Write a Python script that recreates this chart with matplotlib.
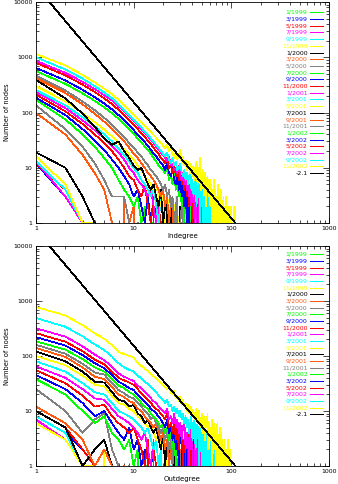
import matplotlib
matplotlib.use("Agg")
import matplotlib.pyplot as plt
from matplotlib.ticker import FixedLocator, FixedFormatter, LogLocator, NullFormatter

# snapshot labels and colours (legend order)
labels = ["1/1999", "3/1999", "5/1999", "7/1999", "9/1999", "11/1999",
          "1/2000", "3/2000", "5/2000", "7/2000", "9/2000", "11/2000",
          "1/2001", "3/2001", "5/2001", "7/2001", "9/2001", "11/2001",
          "1/2002", "3/2002", "5/2002", "7/2002", "9/2002", "11/2002"]
palette = ["#00ff00", "#0000ff", "#ff0000", "#ff00ff", "#00ffff", "#ffff00",
           "#000000", "#ff5a10", "#808080"]

# power-law reference: N(k) = C * k^-2.1
pl_exp = -2.1
pl_const = 19360
pl_k = [1, 110]

# number of nodes with in-degree k = 1, 2, 3, ...
indeg = [
    [12, 3, 1],
    [12, 3, 1],
    [12, 4, 1],
    [13, 3, 1],
    [13, 4, 1],
    [16, 5, 1, 1],
    [19, 10, 3, 1],
    [98, 40, 17, 8, 4, 1, 0, 3, 1, 2, 0, 1],
    [135, 50, 24, 12, 6, 3, 3, 3, 1, 0, 1, 0, 1],
    [170, 75, 40, 24, 15, 10, 6, 4, 3, 2, 3, 1, 2, 0, 1, 1, 0, 2, 0, 1],
    [185, 90, 50, 31, 21, 14, 10, 7, 5, 3, 4, 2, 1, 3, 1, 0, 2, 1, 0, 1, 0, 1],
    [210, 105, 62, 40, 28, 20, 14, 10, 7, 6, 4, 3, 5, 2, 1, 3, 0, 2, 1, 0, 1, 2, 0, 1,
     0, 0, 1, 0, 1],
    [235, 120, 72, 48, 34, 25, 19, 14, 10, 8, 6, 5, 4, 3, 4, 2, 1, 3, 0, 2, 1, 0, 1, 0, 2, 0, 1,
     0, 1, 0, 0, 1],
    [255, 135, 82, 56, 40, 30, 22, 17, 13, 10, 8, 6, 5, 4, 3, 5, 2, 1, 3, 2,
     0, 1, 2, 0, 1, 0, 1, 1, 0, 0, 1, 0, 2, 0, 1, 0, 0, 1],
    [300, 160, 98, 67, 49, 37, 28, 22, 17, 14, 11, 9, 7, 6, 5, 4, 5, 3, 2, 4,
     1, 3, 2, 0, 2, 1, 3, 0, 1, 2, 0, 1, 0, 2, 0, 1, 0, 0, 1, 0, 1, 0, 0, 1,
     0, 2, 0, 1, 0, 0, 1, 0, 1],
    [390, 180, 95, 55, 34, 26, 30, 20, 15, 11, 9, 10, 7, 5, 4, 5, 3, 2, 4, 1,
     2, 3, 0, 1, 2, 0, 1, 1, 0, 2, 0, 1, 0, 0, 1, 2, 0, 1, 0, 1, 1, 0, 0, 1, 0, 1],
    [420, 225, 140, 95, 68, 50, 38, 30, 23, 18, 15, 12, 10, 8, 7, 6, 5, 4, 3, 4,
     2, 3, 1, 2, 3, 0, 1, 2, 0, 1, 1, 0, 2, 0, 1, 0, 0, 1, 0, 1,
     0, 1, 2, 0, 1, 0, 1, 0, 0, 1],
    [460, 250, 158, 110, 80, 60, 46, 36, 28, 23, 19, 16, 13, 11, 9, 8, 7, 6, 5, 4,
     5, 3, 4, 2, 3, 1, 2, 3, 0, 1, 2, 1, 0, 1, 0, 2, 0, 1, 0, 0, 1, 0, 1,
     0, 2, 1, 0, 1, 0, 1, 0, 0, 1, 0, 1],
    [560, 330, 222, 162, 124, 97, 77, 62, 50, 41, 34, 29, 24, 21, 18, 15, 13, 11, 10, 9,
     8, 10, 6, 7, 5, 8, 4, 6, 3, 5, 2, 6, 1, 4, 3, 0, 2, 4, 1, 3,
     0, 2, 1, 3, 0, 1, 2, 0, 1, 0, 0, 2, 0, 1, 1, 0, 1, 0, 2, 0, 1, 0, 0, 1, 0, 1],
    [640, 380, 258, 190, 145, 114, 90, 72, 58, 48, 40, 34, 29, 25, 21, 18, 16, 14, 12, 11,
     9, 12, 8, 7, 10, 6, 5, 8, 4, 6, 3, 7, 2, 5, 1, 4, 3, 0, 2, 5,
     1, 3, 0, 2, 1, 4, 0, 1, 2, 0, 3, 0, 1, 0, 2, 0, 1, 0, 0, 1,
     0, 1, 2, 0, 1, 0, 0, 1, 0, 1],
    [790, 470, 320, 235, 180, 142, 112, 90, 72, 60, 50, 42, 36, 31, 27, 23, 20, 18, 15, 14,
     12, 15, 10, 11, 8, 12, 7, 9, 6, 10, 5, 7, 4, 8, 3, 6, 2, 5, 4, 1,
     3, 5, 0, 2, 4, 1, 3, 0, 2, 1, 4, 0, 1, 2, 0, 3, 1, 0, 1, 0,
     2, 0, 1, 0, 0, 1, 0, 2, 0, 0, 1, 0, 0, 0, 1],
    [860, 520, 360, 265, 205, 165, 130, 105, 85, 70, 59, 50, 42, 37, 32, 28, 24, 21, 19, 17,
     15, 13, 16, 11, 12, 9, 10, 8, 11, 7, 6, 8, 5, 7, 4, 6, 3, 5, 2, 4,
     3, 1, 5, 2, 0, 3, 1, 4, 0, 2, 1, 3, 0, 1, 2, 0, 1, 0, 2, 1,
     0, 1, 0, 0, 1, 2, 0, 1, 0, 0, 1, 0, 0, 1, 0, 0, 0, 1],
    [1000, 600, 410, 300, 230, 180, 142, 112, 90, 75, 63, 53, 45, 39, 34, 30, 26, 23, 20, 18,
     16, 19, 14, 12, 15, 11, 13, 9, 10, 12, 8, 7, 9, 6, 8, 5, 7, 9, 4, 6,
     3, 5, 7, 2, 4, 6, 3, 1, 5, 2, 4, 0, 3, 2, 1, 4, 0, 2, 3, 1,
     0, 2, 3, 1, 0, 2, 1, 3, 0, 1, 2, 0, 1, 0, 2, 1, 0, 0, 1, 2,
     0, 1, 0, 0, 1, 0, 1, 0, 0, 1],
    [1150, 710, 480, 350, 270, 215, 170, 135, 110, 92, 78, 66, 57, 50, 44, 39, 35, 31, 28, 25,
     23, 26, 20, 22, 18, 15, 19, 14, 17, 21, 12, 16, 11, 14, 9, 13, 10, 8, 12, 7,
     11, 6, 9, 13, 5, 8, 10, 15, 4, 7, 9, 3, 6, 8, 2, 5, 7, 4, 3, 6,
     2, 5, 1, 4, 3, 6, 1, 2, 4, 0, 3, 2, 5, 1, 0, 3, 2, 1, 4, 0,
     2, 1, 3, 0, 2, 1, 0, 3, 1, 0, 2, 1, 0, 1, 2, 0, 1, 0, 2, 1,
     0, 1, 0, 0, 2, 1, 0, 0, 2, 1],
]

# number of nodes with out-degree k = 1, 2, 3, ...
outdeg = [
    [7, 3, 1, 1],
    [8, 4, 2, 1],
    [10, 5, 2, 1, 2, 0, 1],
    [7, 3, 1, 1],
    [8, 4, 1, 0, 1],
    [6, 3, 1, 1, 2, 0, 1],
    [10, 5, 1, 2, 3, 1, 0, 1],
    [12, 6, 3, 1, 2, 1, 0, 1],
    [25, 10, 4, 7, 9, 2, 1, 0, 1],
    [38, 20, 10, 6, 8, 4, 3, 2, 3, 1, 2, 0, 1, 1],
    [45, 25, 14, 8, 10, 6, 4, 3, 5, 2, 3, 1, 2, 0, 1, 2, 0, 1],
    [55, 32, 19, 12, 13, 8, 6, 5, 4, 5, 3, 2, 1, 3, 0, 2, 1, 0, 1, 0, 1, 0, 0, 1],
    [65, 40, 25, 17, 16, 11, 8, 7, 6, 5, 4, 3, 4, 2, 1, 3, 0, 1, 2, 0, 1, 0, 1, 0, 0, 1],
    [80, 52, 32, 22, 20, 14, 10, 9, 8, 7, 6, 5, 4, 5, 3, 2, 3, 1, 2, 0, 1, 2, 0, 1,
     0, 0, 1, 0, 1],
    [100, 68, 44, 30, 28, 19, 14, 13, 11, 10, 8, 7, 6, 5, 6, 4, 3, 4, 2, 3,
     2, 1, 3, 0, 2, 1, 0, 2, 1, 0, 1, 0, 1, 0, 0, 1, 0, 1],
    [120, 80, 52, 34, 33, 22, 16, 15, 12, 13, 9, 8, 6, 7, 5, 4, 5, 3, 2, 4,
     1, 3, 2, 0, 2, 1, 3, 0, 1, 0, 2, 0, 1, 0, 1, 0, 0, 1, 0, 1],
    [140, 96, 62, 42, 38, 27, 20, 18, 15, 14, 11, 10, 8, 7, 6, 5, 6, 4, 3, 4,
     2, 3, 1, 2, 3, 0, 2, 1, 0, 2, 1, 0, 1, 0, 2, 0, 1, 0, 0, 1, 0, 1],
    [160, 110, 72, 50, 46, 32, 24, 21, 18, 17, 14, 12, 10, 9, 7, 8, 6, 5, 4, 5,
     3, 4, 2, 3, 1, 4, 2, 0, 3, 1, 2, 0, 1, 2, 0, 1, 0, 1, 0, 0, 2, 0, 1, 0, 1],
    [185, 130, 88, 62, 52, 38, 29, 26, 22, 20, 17, 14, 12, 11, 9, 8, 7, 6, 5, 6,
     4, 5, 3, 4, 2, 5, 1, 3, 4, 0, 2, 3, 1, 0, 2, 1, 0, 1, 2, 0, 1, 0, 1,
     0, 1, 0, 2, 0, 0, 1, 0, 1],
    [220, 155, 104, 74, 60, 45, 34, 30, 26, 24, 20, 17, 15, 13, 11, 10, 9, 8, 7, 6,
     5, 7, 4, 5, 3, 6, 2, 4, 1, 5, 3, 0, 2, 4, 1, 3, 0, 2, 1, 0,
     3, 1, 0, 2, 0, 1, 0, 1, 0, 2, 0, 1, 0, 0, 1, 0, 1],
    [260, 182, 122, 86, 70, 52, 40, 36, 33, 30, 25, 21, 18, 16, 14, 12, 11, 10, 9, 8,
     7, 9, 5, 6, 4, 7, 3, 5, 2, 6, 4, 1, 3, 5, 0, 2, 4, 1, 3, 0,
     2, 1, 3, 0, 1, 2, 0, 1, 0, 2, 1, 0, 1, 0, 0, 1, 0, 2, 0, 1, 0, 0, 1],
    [320, 225, 150, 106, 84, 64, 48, 42, 38, 35, 29, 26, 22, 20, 17, 15, 14, 12, 11, 10,
     9, 11, 7, 8, 6, 9, 5, 7, 4, 6, 3, 5, 7, 2, 4, 3, 1, 5, 2, 3,
     0, 4, 2, 1, 3, 0, 2, 1, 3, 0, 1, 2, 0, 1, 0, 2, 0, 1, 0, 1,
     0, 0, 2, 0, 1, 0, 1, 0, 0, 1],
    [490, 340, 228, 162, 128, 98, 74, 62, 56, 52, 44, 39, 34, 31, 27, 24, 22, 19, 17, 16,
     14, 16, 12, 13, 10, 12, 9, 11, 8, 10, 7, 9, 6, 8, 5, 7, 4, 6, 8, 3,
     5, 7, 2, 4, 6, 3, 1, 5, 2, 4, 0, 3, 5, 1, 2, 4, 0, 3, 1, 2,
     0, 3, 1, 2, 0, 1, 3, 0, 2, 1, 0, 2, 0, 1, 0, 1, 2, 0, 0, 1,
     0, 1, 0, 0, 1],
    [780, 545, 365, 258, 205, 158, 118, 108, 100, 95, 74, 66, 59, 53, 47, 43, 39, 35, 32, 30,
     27, 25, 28, 22, 20, 23, 17, 19, 15, 18, 13, 16, 12, 14, 10, 13, 9, 11, 12, 8,
     10, 7, 9, 11, 6, 8, 10, 5, 7, 9, 4, 8, 6, 3, 7, 5, 9, 2, 6, 4,
     5, 3, 7, 1, 4, 6, 2, 5, 3, 0, 4, 6, 2, 1, 3, 5, 0, 2, 4, 1,
     3, 0, 2, 1, 3, 0, 2, 1, 0, 2, 1, 0, 3, 1, 0, 1, 2, 0, 0, 1],
]

FS = 4.5
LW = 0.5


def draw_panel(ax, data, xlabel, leg_top):
    for i, counts in enumerate(data):
        k = list(range(1, len(counts) + 1))
        ax.plot(k, counts, color=palette[i % len(palette)], lw=LW, antialiased=False)
    pl_n = [pl_const * kk ** pl_exp for kk in pl_k]
    ax.plot(pl_k, pl_n, color="black", lw=LW, antialiased=False)

    ax.set_xscale("log", nonpositive="clip")
    ax.set_yscale("log", nonpositive="clip")
    ax.set_xlim(1, 1000)
    ax.set_ylim(1, 10000)
    ax.xaxis.set_major_locator(FixedLocator([1, 10, 100, 1000]))
    ax.xaxis.set_major_formatter(FixedFormatter(["1", "10", "100", "1000"]))
    ax.yaxis.set_major_locator(FixedLocator([1, 10, 100, 1000, 10000]))
    ax.yaxis.set_major_formatter(FixedFormatter(["1", "10", "100", "1000", "10000"]))
    for a in (ax.xaxis, ax.yaxis):
        a.set_minor_locator(LogLocator(base=10, subs=range(2, 10), numticks=20))
        a.set_minor_formatter(NullFormatter())
    ax.tick_params(which="both", direction="in", top=True, right=True,
                   labelsize=FS, width=0.5, pad=2.5)
    ax.tick_params(which="major", length=4.5)
    ax.tick_params(which="minor", length=2.2)
    for s in ax.spines.values():
        s.set_linewidth(0.6)
    ax.set_xlabel(xlabel, fontsize=FS + 0.5, labelpad=1)
    ax.set_ylabel("Number of nodes", fontsize=FS + 0.3)
    ax.yaxis.set_label_coords(-0.09, 0.5)

    # hand-placed legend like the original IDL plot
    step = 0.0303
    names = labels + ["-2.1"]
    cols = [palette[i % len(palette)] for i in range(len(labels))] + ["black"]
    for i, (name, c) in enumerate(zip(names, cols)):
        y = leg_top - i * step
        ax.text(0.927, y, name, color=c, fontsize=FS, ha="right", va="center",
                transform=ax.transAxes)
        ax.plot([0.935, 0.979], [y, y], color=c, lw=LW, transform=ax.transAxes,
                antialiased=False)


fig = plt.figure(figsize=(3.38, 4.84), dpi=100)
ax1 = fig.add_axes([36 / 338, 1 - 223 / 484, 293 / 338, 221 / 484])
ax2 = fig.add_axes([36 / 338, 1 - 466 / 484, 293 / 338, 220 / 484])

draw_panel(ax1, indeg, "Indegree", 0.953)
draw_panel(ax2, outdeg, "Outdegree", 0.962)

fig.savefig("out.png", dpi=100)
